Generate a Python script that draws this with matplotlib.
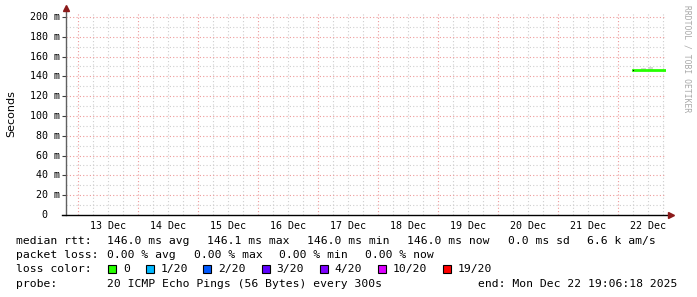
import matplotlib
matplotlib.use("Agg")
import matplotlib.pyplot as plt
import matplotlib.patches as mpatches
import matplotlib.transforms as mtransforms
import pandas as pd

# ===============================
# Data
# ===============================
end_time = pd.Timestamp("2025-12-22 19:06:18")
start_time = end_time - pd.Timedelta(days=10)

# median rtt (ms), only measured on the last day
rtt_times = pd.to_datetime([
    "2025-12-22 06:00", "2025-12-22 07:00", "2025-12-22 08:00", "2025-12-22 09:00",
    "2025-12-22 10:00", "2025-12-22 11:00", "2025-12-22 12:00", "2025-12-22 13:00",
    "2025-12-22 14:00", "2025-12-22 15:00", "2025-12-22 16:00", "2025-12-22 17:00",
    "2025-12-22 18:00", "2025-12-22 19:06",
])
rtt_median = [146.0, 146.0, 146.0, 146.1, 146.0, 146.0, 146.1, 146.0,
              146.0, 146.0, 146.0, 146.0, 146.0, 146.0]
rtt_smoke_top = [146.3, 146.3, 146.4, 148.8, 148.2, 146.4, 149.5, 149.0,
                 146.4, 146.3, 146.3, 146.3, 146.3, 146.3]

y_ticks = [0, 20, 40, 60, 80, 100, 120, 140, 160, 180, 200]
day_labels = ["13 Dec", "14 Dec", "15 Dec", "16 Dec", "17 Dec",
              "18 Dec", "19 Dec", "20 Dec", "21 Dec", "22 Dec"]

rtt_row = ["146.0 ms avg", "146.1 ms max", "146.0 ms min", "146.0 ms now",
           "0.0 ms sd", "6.6 k am/s"]
loss_row = ["0.00 % avg", "0.00 % max", "0.00 % min", "0.00 % now"]
loss_labels = ["0", "1/20", "2/20", "3/20", "4/20", "10/20", "19/20"]
loss_colors = ["#26ff00", "#00b8ff", "#0059ff", "#5e00ff", "#7e00ff", "#dd00ff", "#ff0000"]
probe_text = "20 ICMP Echo Pings (56 Bytes) every 300s"
end_text = "end: Mon Dec 22 19:06:18 2025"

# ===============================
# Layout (pixels)
# ===============================
W, H = 697, 297
ax_left, ax_right, ax_top, ax_bottom = 66, 666, 13, 215
rtt_x = [106.7, 207, 307.3, 406.7, 508.3, 587]
loss_x = [106.7, 194.3, 279.3, 365]
square_x = [108.3, 146, 203.3, 261.7, 320, 377.7, 443.3]
row_y = [241.3, 255.3, 268.7, 283.7]

MONO = "DejaVu Sans Mono"
GRID = "#cfcfcf"
MGRID = "#ee9a9a"

fig = plt.figure(figsize=(W / 100, H / 100), dpi=100)
ax = fig.add_axes([ax_left / W, 1 - ax_bottom / H,
                   (ax_right - ax_left) / W, (ax_bottom - ax_top) / H])
ax.set_xlim(start_time, end_time)
ax.set_ylim(0, 204)

def fx(x):
    return x / W

def fy(y):
    return 1 - y / H

# grid
hours6 = pd.date_range(start_time.ceil("6h"), end_time, freq="6h")
for t in hours6:
    is_day = t.hour == 0
    ax.axvline(t, color=MGRID if is_day else GRID, lw=0.8,
               ls=(0, (1, 2)), zorder=1 if is_day else 0)
for v in range(10, 201, 10):
    major = v % 20 == 0
    ax.axhline(v, color=MGRID if major else GRID, lw=0.8,
               ls=(0, (1, 2)), zorder=1 if major else 0)

# smoke + median line
ax.fill_between(rtt_times, rtt_median, rtt_smoke_top, step="post",
                color="#d6d6d6", lw=0, zorder=2)
ax.step(rtt_times, rtt_median, where="post", color="#26ff00", lw=2, zorder=3)
ax.plot(rtt_times[:1], rtt_median[:1], "s", color="black", ms=0.8, mew=0, zorder=4)

# axes
for s in ax.spines.values():
    s.set_visible(False)
ax.plot([0, 0], [0, 1 + 5 / 202], transform=ax.transAxes, color="#606060",
        lw=1, clip_on=False, zorder=5)
ax.plot([-4 / 600, 1 + 4 / 600], [0, 0], transform=ax.transAxes, color="black",
        lw=1, clip_on=False, zorder=5)
ax.plot([0], [1 + 5 / 202], "^", transform=ax.transAxes, color="#8b1a1a",
        ms=4, clip_on=False, zorder=6)
ax.plot([1 + 5 / 600], [0], ">", transform=ax.transAxes, color="#8b1a1a",
        ms=4, clip_on=False, zorder=6)

# ticks
ax.set_yticks(y_ticks)
ax.set_yticklabels([])
ax.tick_params(axis="y", length=3, width=0.8, color="#404040", direction="out")
noons = pd.date_range(start_time.ceil("D") + pd.Timedelta(hours=12), periods=len(day_labels), freq="D")
ax.set_xticks(noons)
ax.set_xticklabels(day_labels, fontfamily=MONO, fontsize=7.2)
ax.tick_params(axis="x", length=0, pad=4)
for v in y_ticks:
    lbl = f"{v} m" if v else "0"
    off = 0 if v else -13 / 100
    ax.text(0, v, lbl, ha="right", va="center", fontfamily=MONO, fontsize=7.2,
            transform=mtransforms.blended_transform_factory(ax.transAxes, ax.transData)
            + mtransforms.ScaledTranslation(-6 / 100 + off, 0, fig.dpi_scale_trans))

fig.text(fx(11), fy(114), "Seconds", rotation=90, ha="center", va="center",
         fontsize=8, fontfamily="DejaVu Sans")
fig.text(fx(687), fy(59), "RRDTOOL / TOBI OETIKER", rotation=270, ha="center",
         va="center", fontsize=5.8, fontfamily=MONO, color="#a8a8a8")

# legend
leg = dict(fontfamily=MONO, fontsize=8.2, va="center", ha="left")
fig.text(fx(16), fy(row_y[0]), "median rtt:", **leg)
for x, s in zip(rtt_x, rtt_row):
    fig.text(fx(x), fy(row_y[0]), s, **leg)
fig.text(fx(16), fy(row_y[1]), "packet loss:", **leg)
for x, s in zip(loss_x, loss_row):
    fig.text(fx(x), fy(row_y[1]), s, **leg)
fig.text(fx(16), fy(row_y[2]), "loss color:", **leg)
for x, lab, c in zip(square_x, loss_labels, loss_colors):
    fig.patches.append(mpatches.Rectangle((fx(x), fy(row_y[2] + 4)), 8 / W, 8 / H,
                                          transform=fig.transFigure, facecolor=c,
                                          edgecolor="black", lw=0.8))
    fig.text(fx(x + 14.5), fy(row_y[2]), lab, **leg)
fig.text(fx(16), fy(row_y[3]), "probe:", **leg)
fig.text(fx(106.7), fy(row_y[3]), probe_text, **leg)
fig.text(fx(478.3), fy(row_y[3]), end_text, **leg)

fig.savefig("out.png", dpi=100)
